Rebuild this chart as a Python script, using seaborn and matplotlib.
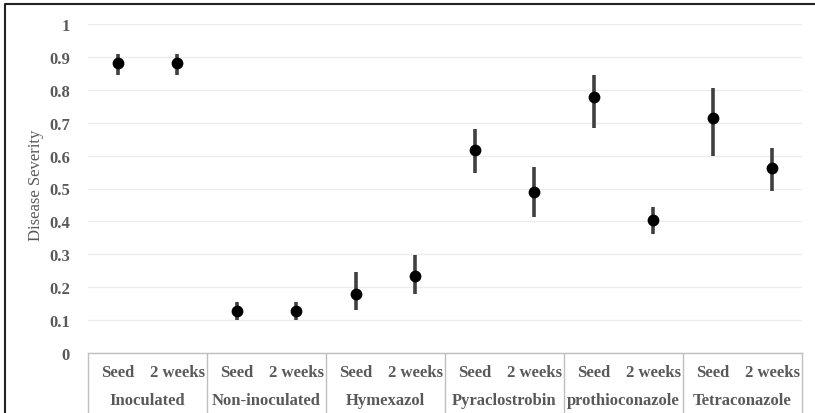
import numpy as np
import pandas as pd
import seaborn as sns
import matplotlib.pyplot as plt
from matplotlib.lines import Line2D

# Données
groupes = ['Inoculated', 'Non-inoculated', 'Hymexazol', 'Pyraclostrobin',
           'prothioconazole', 'Tetraconazole']
moments = ['Seed', '2 weeks']
moyenne = [0.88, 0.88, 0.128, 0.128, 0.18, 0.235, 0.617, 0.488, 0.778, 0.405, 0.713, 0.561]
bas = [0.845, 0.845, 0.10, 0.10, 0.13, 0.18, 0.547, 0.412, 0.683, 0.363, 0.598, 0.493]
haut = [0.91, 0.91, 0.155, 0.155, 0.247, 0.298, 0.681, 0.564, 0.845, 0.443, 0.805, 0.624]
ticks_y = [0, 0.1, 0.2, 0.3, 0.4, 0.5, 0.6, 0.7, 0.8, 0.9, 1]

df = pd.DataFrame({
    'Groupe': np.repeat(groupes, len(moments)),
    'Moment': moments * len(groupes),
    'Moyenne': moyenne,
    'Bas': bas,
    'Haut': haut,
})
df['Pos'] = np.arange(len(df))

sns.set_style("white")
plt.rcParams['font.family'] = ['Liberation Serif', 'DejaVu Serif']
gris = '#595959'

fig = plt.figure(figsize=(8.15, 4.14), dpi=100)
ax = fig.add_axes([88/815, 60/414, 714/815, 329/414])

# Barres d'erreur puis points
ax.vlines(df['Pos'], df['Bas'], df['Haut'], color='#404040', linewidth=2.6, zorder=2)
sns.scatterplot(data=df, x='Pos', y='Moyenne', color='black', s=72,
                edgecolor='black', linewidth=0, ax=ax, zorder=3, legend=False)

ax.set_xlim(-0.5, len(df) - 0.5)
ax.set_ylim(0, 1)
ax.set_yticks(ticks_y)
ax.set_yticklabels([f'{t:g}' for t in ticks_y], fontsize=12, fontweight='bold', color=gris)
ax.tick_params(axis='y', length=0, pad=13)
ax.set_xticks([])
ax.set_xlabel('')
ax.set_ylabel('Disease Severity', fontsize=12, color=gris)
ax.yaxis.set_label_coords(-0.0616, 0.514)
ax.yaxis.grid(True, color='#ececec', linewidth=1)
ax.set_axisbelow(True)
for s in ['top', 'right', 'left']:
    ax.spines[s].set_visible(False)
ax.spines['bottom'].set_color('#bfbfbf')
ax.spines['bottom'].set_linewidth(1)

# Axe des catégories à deux niveaux
trans = ax.get_xaxis_transform()
for i, row in df.iterrows():
    ax.text(row['Pos'], -0.058, row['Moment'], transform=trans, ha='center', va='center',
            fontsize=12, fontweight='bold', color=gris)
for g, nom in enumerate(groupes):
    centre = g * len(moments) + (len(moments) - 1) / 2
    ax.text(centre, -0.143, nom, transform=trans, ha='center', va='center',
            fontsize=12, fontweight='bold', color=gris)
for b in np.arange(len(groupes) + 1) * len(moments) - 0.5:
    ax.plot([b, b], [0, -0.2], transform=trans, color='#bfbfbf', linewidth=1, clip_on=False)

# Cadre (gauche et haut)
fig.add_artist(Line2D([5/815, 5/815, 1], [0, 1 - 5/414, 1 - 5/414],
                      transform=fig.transFigure, color='#222222', linewidth=1.5))

plt.savefig('out.png', dpi=100)
